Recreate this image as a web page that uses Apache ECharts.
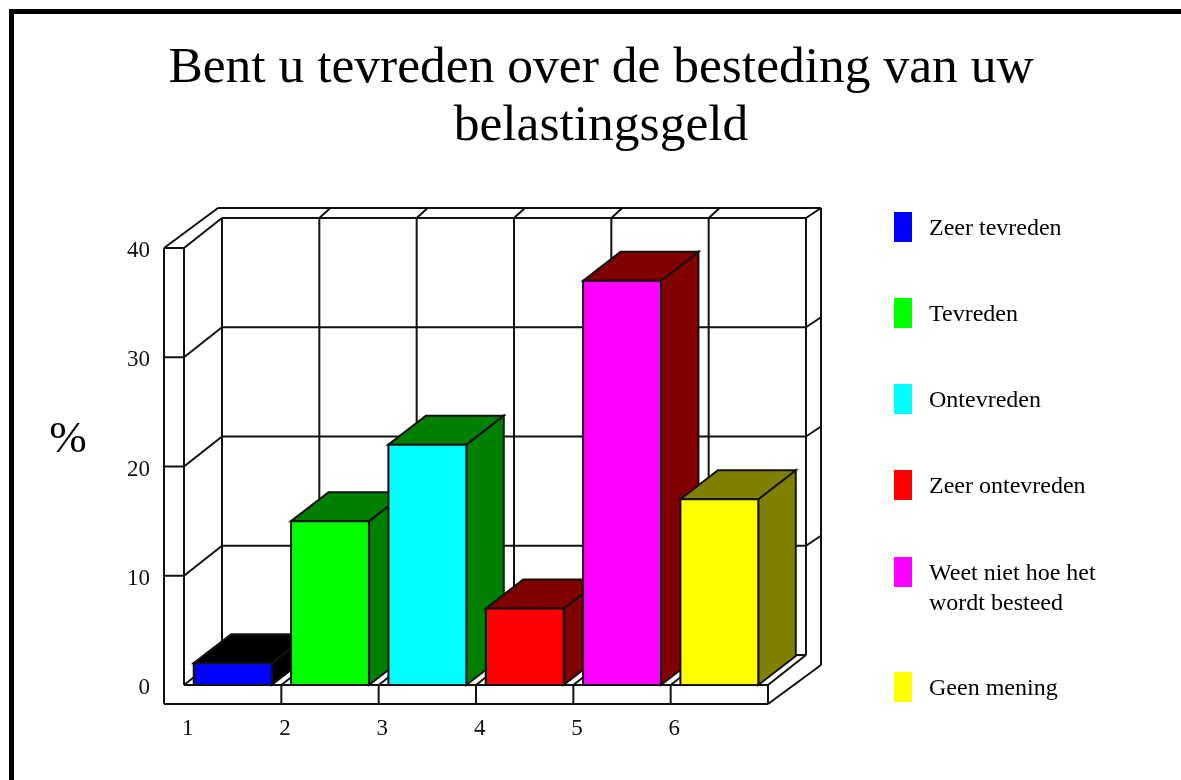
<!DOCTYPE html>
<html>
<head>
<meta charset="utf-8">
<style>html,body{margin:0;padding:0;background:#fff}#c{width:1181px;height:780px}</style>
<script src="https://cdn.jsdelivr.net/npm/echarts@6/dist/echarts.min.js"></script>
</head>
<body>
<div id="c"></div>
<script>
var titleText = 'Bent u tevreden over de besteding van uw\nbelastingsgeld';
var yName = '%';
var categories = ['1', '2', '3', '4', '5', '6'];
var seriesNames = ['Zeer tevreden', 'Tevreden', 'Ontevreden', 'Zeer ontevreden', 'Weet niet hoe het\nwordt besteed', 'Geen mening'];
var values = [2, 15, 22, 7, 37, 17];
var faceColors = ['#0000ff', '#00ff00', '#00ffff', '#ff0000', '#ff00ff', '#ffff00'];
var shadeColors = ['#000000', '#008000', '#008000', '#800000', '#800000', '#808000'];
var yTicks = [0, 10, 20, 30, 40];
var legendTops = [212, 298, 384, 470, 529, 672];

var FONT = '"Liberation Serif","Times New Roman",serif';
var INK = '#111111';
var LW = 2;
var DX = 38, DY = -30;          // depth of the plot box
var OUT_L = 20, OUT_B = 19;     // width of the front frame strips
var BDX = 37.5, BDY = -29;      // depth of a bar

function line(x1, y1, x2, y2) {
  return { type: 'line', shape: { x1: x1, y1: y1, x2: x2, y2: y2 },
           style: { stroke: INK, lineWidth: LW, fill: null } };
}
function poly(points, fill) {
  return { type: 'polygon', shape: { points: points },
           style: { fill: fill, stroke: INK, lineWidth: LW, lineJoin: 'miter' } };
}

function renderFrame(params, api) {
  var band = api.size([1, 0])[0];
  var x0 = api.coord([0, 0])[0] - band / 2;
  var x1 = x0 + band * categories.length;
  var yF = api.coord([0, 0])[1];
  var yT = api.coord([0, 40])[1];
  var out = [];
  // outer frame
  var ol = x0 - OUT_L, ob = yF + OUT_B;
  out.push(line(ol, yT, ol, ob), line(ol, ob, x1, ob), line(x1, ob, x1, yF));
  out.push(line(ol, yT, x0, yT), line(x0, yT, x0, yF), line(x0, yF, x1, yF));
  // top + right outer edge
  var ox = ol + 54, oy = yT - 40;
  var rx = x1 + DX + 15, ry = yF + DY + 10;
  out.push(line(ol, yT, ox, oy), line(ox, oy, rx, oy), line(rx, oy, rx, ry), line(rx, ry, x1, ob));
  // inner back wall
  out.push(line(x0, yT, x0 + DX, yT + DY), line(x0 + DX, yT + DY, x1 + DX, yT + DY));
  out.push(line(x1 + DX, yT + DY, x1 + DX, yF + DY), line(x1 + DX, yF + DY, x1, yF));
  out.push(line(x1 + DX, yT + DY, rx, oy));
  out.push(line(x0 + DX, yT + DY, x0 + DX, yF + DY), line(x0, yF, x0 + DX, yF + DY), line(x0 + DX, yF + DY, x1 + DX, yF + DY));
  // value grid lines
  yTicks.forEach(function (t) {
    if (t === 0 || t === 40) return;
    var y = api.coord([0, t])[1];
    out.push(line(ol, y, x0, y), line(x0, y, x0 + DX, y + DY), line(x0 + DX, y + DY, x1 + DX, y + DY), line(x1 + DX, y + DY, rx, y + DY - 10));
  });
  // category dividers
  for (var i = 1; i < categories.length; i++) {
    var x = x0 + band * i;
    out.push(line(x, yF, x, ob), line(x, yF, x + DX, yF + DY), line(x + DX, yF + DY, x + DX, yT + DY), line(x + DX, yT + DY, x + DX + 11, oy));
  }
  return { type: 'group', children: out };
}

function renderBar(params, api) {
  var c = api.coord([api.value(0), api.value(1)]);
  var base = api.coord([api.value(0), 0]);
  var w = api.size([1, 0])[0] * 0.8;
  var l = c[0] - w / 2, r = c[0] + w / 2, t = c[1], b = base[1];
  var i = api.value(0);
  return { type: 'group', children: [
    poly([[r, b], [r + BDX, b + BDY], [r + BDX, t + BDY], [r, t]], shadeColors[i]),
    poly([[l, t], [l + BDX, t + BDY], [r + BDX, t + BDY], [r, t]], shadeColors[i]),
    poly([[l, t], [r, t], [r, b], [l, b]], faceColors[i])
  ] };
}

var series = [{ type: 'custom', silent: true, data: [[0, 0]], renderItem: renderFrame, encode: { x: 0, y: 1 } }];
categories.forEach(function (c, i) {
  series.push({
    type: 'custom', name: seriesNames[i], silent: true,
    itemStyle: { color: faceColors[i] },
    data: [[i, values[i]]], renderItem: renderBar, encode: { x: 0, y: 1 }
  });
});

var chart = echarts.init(document.getElementById('c'), null, { renderer: 'canvas' });
chart.setOption({
  animation: false,
  backgroundColor: '#ffffff',
  title: [{
    text: titleText, left: 596, top: 34, textAlign: 'center',
    textStyle: { fontFamily: FONT, fontWeight: 'normal', fontSize: 51.5, lineHeight: 58, color: '#000' }
  }, {
    text: yName, left: 63, top: 409, textAlign: 'center',
    textStyle: { fontFamily: FONT, fontWeight: 'normal', fontSize: 45, lineHeight: 52, color: '#000' }
  }],
  grid: { left: 184, top: 248, width: 584, height: 437, containLabel: false },
  xAxis: {
    type: 'category', data: categories,
    axisLine: { show: false }, axisTick: { show: false }, splitLine: { show: false },
    axisLabel: { margin: 32, padding: [0, 90, 0, 0], fontFamily: FONT, fontSize: 23, color: '#111' }
  },
  yAxis: {
    type: 'value', min: 0, max: 40, interval: 10,
    axisLabel: { margin: 34, verticalAlign: 'top', lineHeight: 6, fontFamily: FONT, fontSize: 23, color: '#111' },
    axisLine: { show: false }, axisTick: { show: false }, splitLine: { show: false }
  },
  legend: seriesNames.map(function (n, i) {
    var multi = n.indexOf('\n') >= 0;
    return {
      data: [{ name: n, icon: 'path://M0,0H18V30H0Z M0,34H0Z' }], orient: 'vertical', left: 894, top: legendTops[i],
      padding: 0, itemWidth: 18, itemHeight: 34, selectedMode: false,
      formatter: multi ? '\n{name}' : '{name}',
      textStyle: { fontFamily: FONT, fontSize: 24, lineHeight: 30, color: '#000', padding: [0, 0, 0, 12] }
    };
  }),
  graphic: [
    { type: 'rect', shape: { x: 9, y: 9, width: 1172, height: 5 }, style: { fill: '#000' } },
    { type: 'rect', shape: { x: 9, y: 9, width: 5, height: 771 }, style: { fill: '#000' } }
  ],
  series: series
});
</script>
</body>
</html>
